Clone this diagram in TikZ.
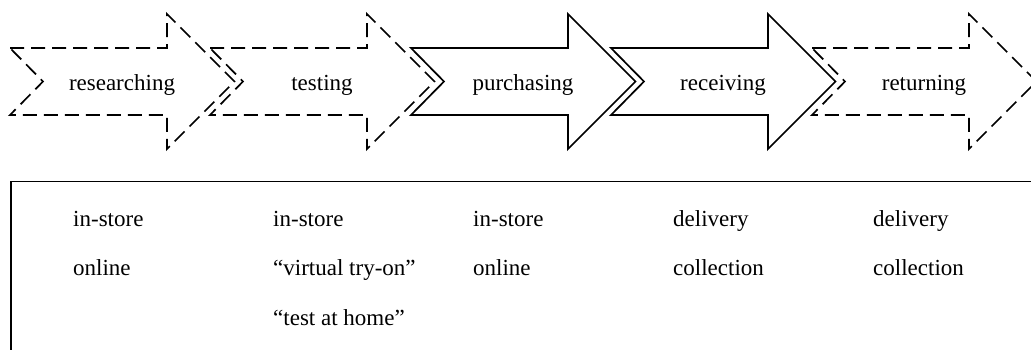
\documentclass[tikz,border=0pt]{standalone}
\usepackage{fontspec}
\setmainfont{Liberation Serif}
\begin{document}
\begin{tikzpicture}[x=1pt,y=-1pt,
  stage/.style={line width=1.7pt, line join=miter},
  dashstage/.style={stage, dash pattern=on 14pt off 7pt},
  lbl/.style={font=\fontsize{23}{27}\selectfont, anchor=base, inner sep=0pt},
  item/.style={font=\fontsize{23}{27}\selectfont, anchor=base west, inner sep=0pt},
  frame/.style={line width=1.9pt},
  chev/.pic={
    \path[pic actions] (0,48) -- (157,48) -- (157,14) -- (224.5,81.5) -- (157,149) -- (157,115) -- (0,115) -- (33,81.5) -- cycle;
  }]
\clip (0,0) rectangle (1031,349);
\fill[white] (0,0) rectangle (1031,349);
\pic[dashstage,draw] at (10,0) {chev};
\pic[dashstage,draw] at (210,0) {chev};
\pic[stage,draw] at (411,0) {chev};
\pic[stage,draw] at (611,0) {chev};
\pic[dashstage,draw] at (812,0) {chev};
\node[lbl] (l1) at (122,90) {researching};
\node[lbl] (l2) at (322,90) {testing};
\node[lbl] (l3) at (523,90) {purchasing};
\node[lbl] (l4) at (723,90) {receiving};
\node[lbl] (l5) at (924,90) {returning};
\draw[frame] (11,400) -- (11,181.5) -- (1100,181.5);
\node[item] (a1) at (73,226) {in-store};
\node[item] (a2) at (73,275) {online};
\node[item] (b1) at (273,226) {in-store};
\node[item] (b2) at (273,275) {“virtual try-on”};
\node[item] (b3) at (273,325) {“test at home”};
\node[item] (c1) at (473,226) {in-store};
\node[item] (c2) at (473,275) {online};
\node[item] (d1) at (673,226) {delivery};
\node[item] (d2) at (673,275) {collection};
\node[item] (e1) at (873,226) {delivery};
\node[item] (e2) at (873,275) {collection};
\end{tikzpicture}
\end{document}
